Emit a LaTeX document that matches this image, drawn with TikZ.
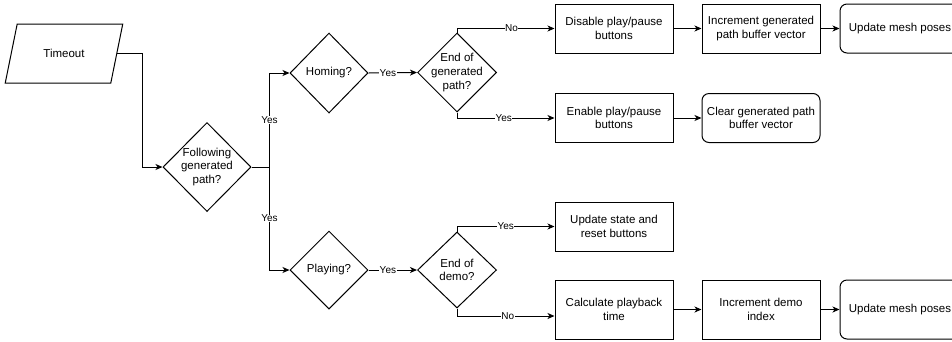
\documentclass[tikz,border=0pt]{standalone}
\usepackage{fontspec}
\setmainfont{Liberation Sans}
\usetikzlibrary{arrows.meta,positioning,shapes.geometric}
\tikzset{
  flowln/.style={-{Stealth[length=7pt,width=6pt,inset=2pt]}, line width=1pt},
  decision/.style={draw, line width=1pt, diamond, aspect=1, inner sep=-3pt,
    align=center, font=\fontsize{11.5}{13.7}\selectfont},
  procbox/.style={draw, line width=1pt, rectangle, minimum width=118pt,
    minimum height=49pt, inner sep=0pt, align=center,
    font=\fontsize{11.5}{13.7}\selectfont},
  endbox/.style={procbox, rounded corners=7pt},
  iobox/.style={draw, line width=1pt, trapezium, trapezium left angle=68,
    trapezium right angle=112, trapezium stretches=true, minimum width=118pt,
    minimum height=59pt, font=\fontsize{11.5}{13.7}\selectfont},
  edgelbl/.style={fill=white, inner sep=0.5pt, font=\fontsize{10}{12}\selectfont},
}

\begin{document}
\begin{tikzpicture}[x=1pt, y=-1pt]
    \useasboundingbox (0,0) rectangle (952,341);
    % Entry and first test
    \node[iobox] (timeout) at (64,53.5) {Timeout};
    \node[decision, minimum width=88pt, minimum height=89pt] (follow) at (207,167)
      {Following\\generated\\path?};
    % Homing branch
    \node[decision, minimum width=78pt, minimum height=80pt] (homing) at (329,73) {Homing?};
    \node[decision, minimum width=79pt, minimum height=79pt] (endgen) at (457,72.5)
      {End of\\generated\\path?};
    \node[procbox] (disable) at (614,28.5) {Disable play/pause\\buttons};
    \node[procbox] (incgen) at (761,28.5) {Increment generated\\path buffer vector};
    \node[endbox, minimum width=120pt] (meshA) at (900,28.5) {Update mesh poses};
    \node[procbox] (enable) at (614,118) {Enable play/pause\\buttons};
    \node[endbox] (cleargen) at (761,118) {Clear generated path\\buffer vector};
    % Playing branch
    \node[decision, minimum width=78pt, minimum height=78pt] (playing) at (329,270) {Playing?};
    \node[decision, minimum width=79pt, minimum height=76pt] (enddemo) at (457,270)
      {End of\\demo?};
    \node[procbox] (upstate) at (614,226.5) {Update state and\\reset buttons};
    \node[procbox, minimum height=59pt] (calc) at (614,309.5) {Calculate playback\\time};
    \node[procbox, minimum height=59pt] (incdemo) at (761,309.5) {Increment demo\\index};
    \node[endbox, minimum width=120pt, minimum height=59pt] (meshB) at (900,309.5)
      {Update mesh poses};
    % Connectors
    \draw[flowln] (timeout.east) -| ([xshift=-20pt]follow.west) -- (follow.west);
    \draw[flowln] (follow.east) -| ([xshift=-20pt]homing.west)
      node[edgelbl, pos=0.75] {Yes} -- (homing.west);
    \draw[flowln] (follow.east) -| ([xshift=-20pt]playing.west)
      node[edgelbl, pos=0.75] {Yes} -- (playing.west);
    \draw[flowln] (homing.east) -- node[edgelbl, pos=0.4] {Yes} (endgen.west);
    \draw[flowln] (endgen.north) |- node[edgelbl, pos=0.78] {No} (disable.west);
    \draw[flowln] (endgen.south) |- node[edgelbl, pos=0.74] {Yes} (enable.west);
    \draw[flowln] (disable) -- (incgen);
    \draw[flowln] (incgen) -- (meshA);
    \draw[flowln] (enable) -- (cleargen);
    \draw[flowln] (playing.east) -- node[edgelbl, pos=0.4] {Yes} (enddemo.west);
    \draw[flowln] (enddemo.north) |- node[edgelbl, pos=0.75] {Yes} (upstate.west);
    \draw[flowln] (enddemo.south) |- node[edgelbl, pos=0.76] {No} ([yshift=-6.5pt]calc.west);
    \draw[flowln] (calc) -- (incdemo);
    \draw[flowln] (incdemo) -- (meshB);
  \end{tikzpicture}
\end{document}
